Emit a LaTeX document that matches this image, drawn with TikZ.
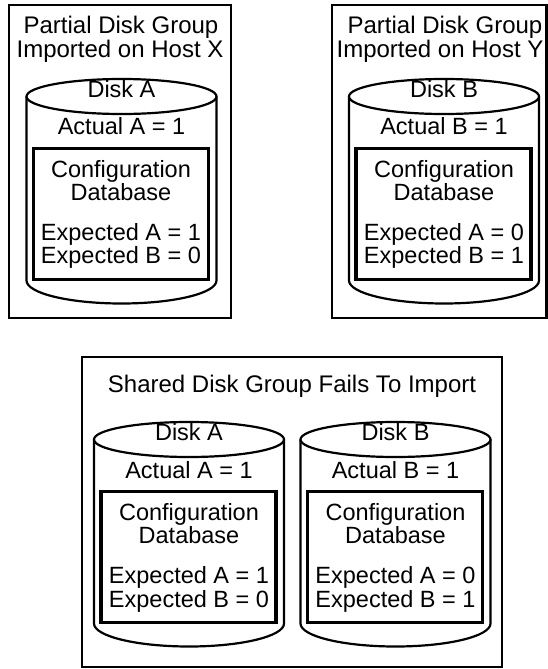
\documentclass[tikz,border=0pt]{standalone}
\usepackage{fontspec}
\setmainfont{Liberation Sans}
\begin{document}
\begin{tikzpicture}[x=1pt,y=-1pt,
  frame/.style={line width=2.6pt},
  cylline/.style={line width=2.2pt},
  dbbox/.style={line width=3.2pt},
  txt/.style={anchor=base, inner sep=0pt, font=\fontsize{23.5}{23}\selectfont},
  ttl/.style={anchor=base, inner sep=0pt, font=\fontsize{24}{23}\selectfont},
  disk/.pic={
    \draw[cylline] (0,0) ellipse [x radius=95pt, y radius=17.5pt];
    \draw[cylline] (-95,0) -- (-95,184) .. controls (-95,196.7) and (-52.5,207) .. (0,207)
      .. controls (52.5,207) and (95,196.7) .. (95,184) -- (95,0);
    \draw[dbbox] (-88,52) rectangle (87,183);
  }]
\useasboundingbox (0,0) rectangle (548,669);

% ---------- top left ----------
\draw[frame] (9,5) rectangle (231,318);
\node[ttl] (tl1) at (121,34) {Partial Disk Group};
\node[ttl] (tl2) at (120,57) {Imported on Host X};
\pic at (121.5,96.5) {disk};
\node[txt] (tlA) at (121.5,97) {Disk A};
\node[txt] (tlAct) at (121.5,134) {Actual A = 1};
\node[txt] (tlC) at (121,177) {Configuration};
\node[txt] (tlD) at (121,200) {Database};
\node[txt] (tlE1) at (121,240) {Expected A = 1};
\node[txt] (tlE2) at (121,263) {Expected B = 0};

% ---------- top right ----------
\draw[frame] (332,5) rectangle (546.7,318);
\node[ttl] (tr1) at (445,34) {Partial Disk Group};
\node[ttl] (tr2) at (440,57) {Imported on Host Y};
\pic at (444,96.5) {disk};
\node[txt] (trB) at (444,97) {Disk B};
\node[txt] (trAct) at (444,134) {Actual B = 1};
\node[txt] (trC) at (444,177) {Configuration};
\node[txt] (trD) at (444,200) {Database};
\node[txt] (trE1) at (444,240) {Expected A = 0};
\node[txt] (trE2) at (444,263) {Expected B = 1};

% ---------- bottom ----------
\draw[frame] (82,357) rectangle (502,667);
\node[ttl] (bt) at (292,392) {Shared Disk Group Fails To Import};
\pic at (189,439.5) {disk};
\node[txt] (bA) at (189,440) {Disk A};
\node[txt] (bAAct) at (189,478) {Actual A = 1};
\node[txt] (bAC) at (189,520) {Configuration};
\node[txt] (bAD) at (189,543) {Database};
\node[txt] (bAE1) at (189,583) {Expected A = 1};
\node[txt] (bAE2) at (189,607) {Expected B = 0};
\pic at (395.5,439.5) {disk};
\node[txt] (bB) at (395.5,440) {Disk B};
\node[txt] (bBAct) at (395.5,478) {Actual B = 1};
\node[txt] (bBC) at (395.5,520) {Configuration};
\node[txt] (bBD) at (395.5,543) {Database};
\node[txt] (bBE1) at (395.5,583) {Expected A = 0};
\node[txt] (bBE2) at (395.5,607) {Expected B = 1};
\end{tikzpicture}
\end{document}
